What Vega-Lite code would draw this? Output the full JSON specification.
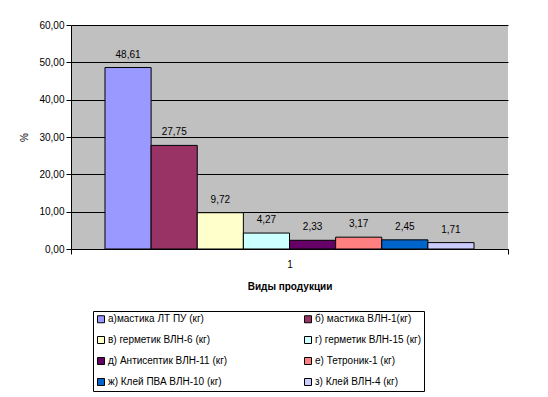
{
  "$schema": "https://vega.github.io/schema/vega-lite/v6.json",
  "width": 437,
  "height": 224,
  "autosize": "none",
  "padding": {"left": 71, "top": 25, "right": 40, "bottom": 148},
  "background": "white",
  "config": {
    "locale": {"number": {"decimal": ",", "thousands": " ", "grouping": [3], "currency": ["", ""]}},
    "view": {"fill": "#C0C0C0", "stroke": null},
    "font": "Liberation Sans",
    "axis": {"labelFont": "Liberation Sans", "titleFont": "Liberation Sans", "labelColor": "black", "titleColor": "black", "domainColor": "black", "tickColor": "black", "gridColor": "black", "labelFontSize": 10, "titleFontSize": 10}
  },
  "data": {"values": [
    {"group": "1", "k": 1, "lk": 1, "name": "а)мастика ЛТ ПУ (кг)", "value": 48.61},
    {"group": "1", "k": 2, "lk": 5, "name": "б) мастика ВЛН-1(кг)", "value": 27.75},
    {"group": "1", "k": 3, "lk": 2, "name": "в) герметик ВЛН-6 (кг)", "value": 9.72},
    {"group": "1", "k": 4, "lk": 6, "name": "г) герметик ВЛН-15 (кг)", "value": 4.27},
    {"group": "1", "k": 5, "lk": 3, "name": "д) Антисептик ВЛН-11 (кг)", "value": 2.33},
    {"group": "1", "k": 6, "lk": 7, "name": "е) Тетроник-1 (кг)", "value": 3.17},
    {"group": "1", "k": 7, "lk": 4, "name": "ж) Клей ПВА ВЛН-10 (кг)", "value": 2.45},
    {"group": "1", "k": 8, "lk": 8, "name": "з) Клей ВЛН-4 (кг)", "value": 1.71}
  ]},
  "encoding": {
    "x": {"field": "group", "type": "nominal", "scale": {"paddingInner": 0, "paddingOuter": 0},
      "axis": {"title": "Виды продукции", "titleFontWeight": "bold", "labelAngle": 0, "ticks": true, "tickBand": "extent", "tickSize": 5, "labelPadding": 5, "titlePadding": 12, "domainWidth": 1}},
    "xOffset": {"field": "name", "type": "nominal", "sort": {"field": "k"}, "scale": {"paddingInner": 0, "paddingOuter": 0.737}},
    "y": {"field": "value", "type": "quantitative", "scale": {"domain": [0, 60]},
      "axis": {"title": "%", "titleFontWeight": "normal", "values": [0, 10, 20, 30, 40, 50, 60], "format": ".2f", "grid": true, "gridWidth": 1, "tickSize": 5, "labelPadding": 2, "titlePadding": 9}}
  },
  "layer": [
    {
      "mark": {"type": "bar", "stroke": "black", "strokeWidth": 1},
      "encoding": {
        "color": {"field": "name", "type": "nominal", "sort": {"field": "lk"},
          "scale": {"range": ["#9999FF", "#FFFFCC", "#660066", "#0066CC", "#993366", "#CCFFFF", "#FF8080", "#CCCCFF"]},
          "legend": {"title": null, "orient": "none", "legendX": 22, "legendY": 286, "columns": 2, "columnPadding": 74, "rowPadding": 9, "padding": 3, "strokeColor": "black", "fillColor": "white", "symbolType": "square", "symbolSize": 49, "symbolStrokeColor": "black", "symbolStrokeWidth": 1, "symbolOpacity": 1, "labelFont": "Liberation Sans", "labelFontSize": 10, "labelColor": "black", "labelLimit": 400, "labelOffset": 2}
        }
      }
    },
    {
      "mark": {"type": "text", "baseline": "bottom", "dy": -8, "fontSize": 10, "color": "black", "font": "Liberation Sans"},
      "encoding": {"text": {"field": "value", "type": "quantitative", "format": ".2f"}}
    }
  ]
}
